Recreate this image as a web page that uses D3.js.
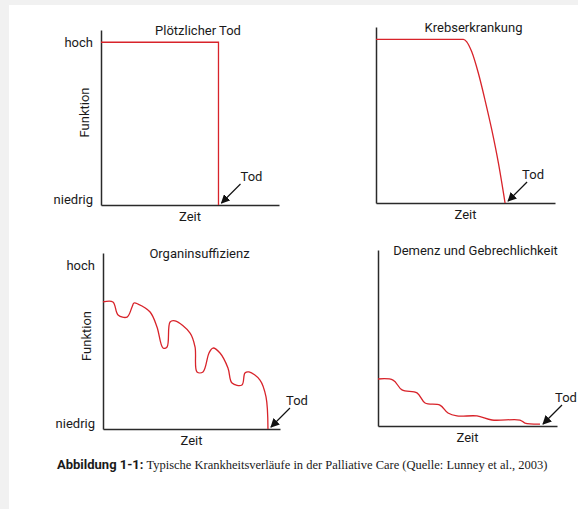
<!DOCTYPE html>
<html>
<head>
<meta charset="utf-8">
<script src="https://cdn.jsdelivr.net/npm/d3@7"></script>
<style>
  body { margin: 0; background: #f1f1f1; }
  svg { display: block; }
  text { font-family: Roboto, "Noto Sans", sans-serif; fill: #1a1a1a; }
</style>
</head>
<body>
<svg id="chart" width="578" height="509"></svg>
<script>
// chart values
const titles = ["Plötzlicher Tod", "Krebserkrankung", "Organinsuffizienz", "Demenz und Gebrechlichkeit"];
const levelTicks = [3, 93];
const levelLabels = ["niedrig", "hoch"];
const xLabel = "Zeit";
const yLabel = "Funktion";
const deathLabel = "Tod";

const suddenDeath = [[0, 93], [66, 93], [66, 0]];
const cancer = [[0, 93], [48.8, 93], [50.7, 91.6], [53.5, 85.9], [57.2, 73.7], [60.9, 58.5], [64.7, 41.5], [68.4, 22.6], [72.1, 0]];
const organFailure = [
    [0, 72.2], [5.6, 72.2], [8.5, 64.8], [13.6, 63.6], [16.4, 69.3], [17.5, 71.6], [19.8, 71],
    [26.6, 66.5], [30.5, 58], [33.9, 46], [36.2, 46.6], [37.9, 60.8], [40.7, 61.4], [49.2, 54.5],
    [52, 46.6], [53.1, 32.4], [56.5, 32.4], [59.9, 43.2], [62.1, 46], [66.1, 43.2], [70.6, 34.7],
    [72.9, 26.1], [78.5, 25], [80.2, 31.8], [82.5, 32.4], [88.7, 27.8], [92.1, 18.2], [93.2, 0]
];
const frailty = [
    [0, 26.7], [8.4, 26.1], [13.4, 20.5], [21.8, 18.8], [26.3, 13.1], [34.6, 11.9], [39.1, 7.4],
    [44.1, 5.7], [55.3, 5.7], [63.7, 3.4], [79.3, 3.4], [82.1, 1.7], [90.5, 1.1]
];
const caption = ["Abbildung 1-1:", " Typische Krankheitsverläufe in der Palliative Care (Quelle: Lunney et al., 2003)"];

// layout
const frames = [
    { left: 101, right: 279, bottom: 205, top: 30, levels: true, curve: d3.curveLinear, todDx: 33 },
    { left: 376, right: 555, bottom: 203, top: 27, levels: false, curve: d3.curveMonotoneX, todDx: 28 },
    { left: 103, right: 280, bottom: 429, top: 253, levels: true, curve: d3.curveCatmullRom.alpha(0.5), todDx: 29 },
    { left: 378, right: 557, bottom: 426, top: 250, levels: false, curve: d3.curveCatmullRom.alpha(0.5), todDx: 26 }
];
const series = [suddenDeath, cancer, organFailure, frailty];

const svg = d3.select('#chart');
svg.append('rect').attr('x', 9).attr('y', 5).attr('width', 569).attr('height', 504).attr('fill', '#fff');

svg.append('defs').append('marker')
    .attr('id', 'arrow')
    .attr('viewBox', '0 0 10 10')
    .attr('refX', 9).attr('refY', 5)
    .attr('markerWidth', 9).attr('markerHeight', 9)
    .attr('markerUnits', 'userSpaceOnUse')
    .attr('orient', 'auto')
    .append('path')
    .attr('d', 'M0,0 L10,5 L0,10 Z')
    .attr('fill', '#111');

frames.forEach((f, i) => {
    const x = d3.scaleLinear().domain([0, 100]).range([f.left, f.right]);
    const y = d3.scaleLinear().domain([0, 100]).range([f.bottom, f.top]);
    const g = svg.append('g');

    const xAxis = g.append('g')
        .attr('transform', `translate(0,${f.bottom})`)
        .call(d3.axisBottom(x).tickValues([]).tickSizeOuter(0));
    const yAxis = g.append('g')
        .attr('transform', `translate(${f.left},0)`)
        .call(d3.axisLeft(y)
            .tickValues(f.levels ? levelTicks : [])
            .tickFormat((d, j) => levelLabels[j])
            .tickSize(0).tickSizeOuter(0).tickPadding(8));
    [xAxis, yAxis].forEach(a => {
        a.select('.domain').attr('stroke', '#2a2a2a').attr('stroke-width', 1.5);
        a.selectAll('text').attr('font-size', 13).attr('font-family', 'Roboto').attr('fill', '#1a1a1a');
    });

    const cx = (f.left + f.right) / 2;
    g.append('text')
        .attr('x', cx + 8).attr('y', f.top + 5)
        .attr('text-anchor', 'middle')
        .attr('font-size', 13)
        .text(titles[i]);

    g.append('text')
        .attr('x', cx).attr('y', f.bottom + 16)
        .attr('text-anchor', 'middle')
        .attr('font-size', 13)
        .text(xLabel);

    if (f.levels) {
        g.append('text')
            .attr('transform', `translate(${f.left - 12},${(f.top + f.bottom) / 2 - 5}) rotate(-90)`)
            .attr('text-anchor', 'middle')
            .attr('font-size', 13)
            .text(yLabel);
    }

    const line = d3.line().x(d => x(d[0])).y(d => y(d[1])).curve(f.curve);
    g.append('path')
        .datum(series[i])
        .attr('d', line)
        .attr('fill', 'none')
        .attr('stroke', '#d8232a')
        .attr('stroke-width', 1.3);

    const end = series[i][series[i].length - 1];
    const ex = x(end[0]), ey = y(0);
    g.append('line')
        .attr('x1', ex + 22).attr('y1', ey - 21)
        .attr('x2', ex + 3).attr('y2', ey - 2)
        .attr('stroke', '#111').attr('stroke-width', 1.2)
        .attr('marker-end', 'url(#arrow)');
    g.append('text')
        .attr('x', ex + f.todDx).attr('y', ey - 24)
        .attr('text-anchor', 'middle')
        .attr('font-size', 13)
        .text(deathLabel);
});

const cap = svg.append('text').attr('x', 57).attr('y', 469).attr('font-size', 13);
cap.append('tspan').attr('font-weight', 'bold').attr('font-family', 'Roboto').text(caption[0]);
cap.append('tspan').attr('font-family', '"Liberation Serif", serif').attr('font-size', 12.5).text(caption[1]);
</script>
</body>
</html>
